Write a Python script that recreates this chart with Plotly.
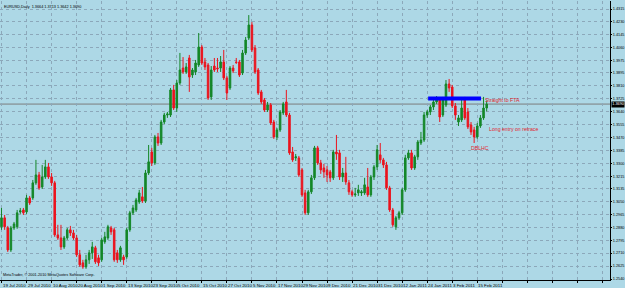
import plotly.graph_objects as go

# ---- data (EURUSD Daily) ----
opens = [1.2883,1.2942,1.2876,1.2731,1.2876,1.2883,1.2981,1.2994,1.2981,1.3073,
         1.3073,1.3172,1.3224,1.3145,1.3211,1.3277,1.3211,1.3172,1.2830,1.2810,
         1.2751,1.2810,1.2863,1.2843,1.2810,1.2699,1.2646,1.2620,1.2666,1.2712,
         1.2745,1.2679,1.2666,1.2784,1.2810,1.2876,1.2863,1.2712,1.2666,1.2685,
         1.2685,1.2863,1.2975,1.2994,1.3047,1.3080,1.3053,1.3237,1.3375,1.3303,
         1.3474,1.3434,1.3572,1.3618,1.3618,1.3783,1.3664,1.3829,1.3927,1.3901,
         1.3993,1.3881,1.3901,1.3947,1.4065,1.3967,1.3947,1.3737,1.3940,1.3927,
         1.3927,1.3967,1.3862,1.3796,1.3927,1.3967,1.3967,1.3894,1.4026,1.4124,
         1.4210,1.4059,1.3914,1.3770,1.3717,1.3651,1.3684,1.3572,1.3474,1.3520,
         1.3632,1.3704,1.3618,1.3375,1.3336,1.3336,1.3257,1.3106,1.2975,1.3113,
         1.3205,1.3402,1.3303,1.3270,1.3257,1.3244,1.3205,1.3375,1.3369,1.3211,
         1.3237,1.3172,1.3113,1.3093,1.3106,1.3106,1.3106,1.3145,1.3093,1.3211,
         1.3277,1.3356,1.3323,1.3290,1.3139,1.2994,1.2883,1.2942,1.2975,1.3126,
         1.3336,1.3369,1.3270,1.3343,1.3434,1.3454,1.3618,1.3638,1.3671,1.3704,
         1.3717,1.3618,1.3684,1.3822,1.3802,1.3678,1.3572,1.3586,1.3717,1.3638,
         1.3553,1.3520,1.3474,1.3546,1.3599,1.3664]
highs = [1.3007,1.2961,1.2889,1.2889,1.2915,1.2994,1.3007,1.3007,1.3093,1.3086,
         1.3191,1.3323,1.3244,1.3290,1.3323,1.3303,1.3237,1.3185,1.2896,1.2896,
         1.2823,1.2876,1.2889,1.2863,1.2830,1.2731,1.2666,1.2699,1.2731,1.2784,
         1.2758,1.2699,1.2810,1.2850,1.2896,1.2889,1.2876,1.2731,1.2758,1.2699,
         1.2876,1.2988,1.3027,1.3073,1.3126,1.3145,1.3257,1.3421,1.3402,1.3487,
         1.3500,1.3586,1.3632,1.3638,1.3796,1.3816,1.3848,1.4026,1.3999,1.3960,
         1.4013,1.3927,1.3980,1.4157,1.4078,1.3993,1.3960,1.3940,1.3993,1.3993,
         1.4006,1.4046,1.3875,1.3940,1.3947,1.3993,1.3980,1.4046,1.4131,1.4275,
         1.4229,1.4078,1.3927,1.3783,1.3730,1.3704,1.3697,1.3586,1.3533,1.3651,
         1.3704,1.3783,1.3632,1.3408,1.3362,1.3349,1.3270,1.3126,1.3126,1.3224,
         1.3415,1.3415,1.3323,1.3297,1.3283,1.3257,1.3389,1.3487,1.3389,1.3270,
         1.3343,1.3191,1.3126,1.3139,1.3159,1.3126,1.3205,1.3270,1.3224,1.3290,
         1.3421,1.3434,1.3336,1.3310,1.3152,1.3007,1.2955,1.2988,1.3139,1.3356,
         1.3389,1.3389,1.3356,1.3454,1.3507,1.3638,1.3651,1.3684,1.3717,1.3743,
         1.3730,1.3737,1.3848,1.3855,1.3816,1.3697,1.3618,1.3717,1.3737,1.3664,
         1.3572,1.3540,1.3566,1.3618,1.3737,1.3713]
lows = [1.2863,1.2863,1.2718,1.2718,1.2863,1.2870,1.2968,1.2961,1.2968,1.3027,
        1.3060,1.3159,1.3126,1.3132,1.3198,1.3198,1.3152,1.2817,1.2797,1.2731,
        1.2738,1.2797,1.2823,1.2797,1.2685,1.2620,1.2607,1.2607,1.2639,1.2672,
        1.2639,1.2626,1.2653,1.2771,1.2797,1.2830,1.2653,1.2646,1.2653,1.2633,
        1.2672,1.2850,1.2961,1.2981,1.3034,1.3040,1.3040,1.3224,1.3283,1.3290,
        1.3415,1.3421,1.3559,1.3599,1.3605,1.3651,1.3638,1.3816,1.3888,1.3888,
        1.3770,1.3862,1.3881,1.3934,1.3947,1.3914,1.3717,1.3717,1.3901,1.3901,
        1.3901,1.3848,1.3717,1.3783,1.3894,1.3954,1.3868,1.3881,1.4013,1.4111,
        1.4032,1.3888,1.3750,1.3691,1.3638,1.3638,1.3553,1.3461,1.3454,1.3507,
        1.3618,1.3605,1.3356,1.3310,1.3316,1.3211,1.3080,1.2961,1.2961,1.3099,
        1.3191,1.3290,1.3231,1.3205,1.3178,1.3178,1.3191,1.3323,1.3191,1.3178,
        1.3159,1.3093,1.3080,1.3080,1.3086,1.3086,1.3093,1.3080,1.3080,1.3191,
        1.3257,1.3303,1.3270,1.3126,1.2981,1.2883,1.2863,1.2929,1.2961,1.3113,
        1.3323,1.3257,1.3257,1.3323,1.3421,1.3441,1.3599,1.3618,1.3651,1.3691,
        1.3572,1.3605,1.3671,1.3770,1.3664,1.3586,1.3546,1.3572,1.3586,1.3526,
        1.3487,1.3434,1.3461,1.3533,1.3586,1.3642]
closes = [1.2942,1.2883,1.2731,1.2876,1.2902,1.2975,1.2988,1.2975,1.3073,1.3040,
          1.3172,1.3224,1.3139,1.3211,1.3277,1.3211,1.3172,1.2830,1.2810,1.2751,
          1.2810,1.2863,1.2843,1.2810,1.2699,1.2633,1.2620,1.2666,1.2712,1.2751,
          1.2653,1.2646,1.2797,1.2817,1.2883,1.2850,1.2666,1.2666,1.2745,1.2666,
          1.2863,1.2975,1.3007,1.3060,1.3106,1.3053,1.3237,1.3310,1.3303,1.3474,
          1.3434,1.3572,1.3618,1.3625,1.3783,1.3664,1.3829,1.3914,1.3901,1.3934,
          1.3868,1.3914,1.3960,1.4065,1.3960,1.3934,1.3730,1.3914,1.3914,1.3922,
          1.3967,1.3862,1.3763,1.3927,1.3908,1.3963,1.3881,1.4026,1.4111,1.4210,
          1.4046,1.3901,1.3763,1.3704,1.3651,1.3684,1.3566,1.3474,1.3520,1.3638,
          1.3691,1.3618,1.3369,1.3323,1.3343,1.3224,1.3093,1.2975,1.3113,1.3205,
          1.3402,1.3303,1.3257,1.3244,1.3224,1.3205,1.3375,1.3362,1.3211,1.3237,
          1.3178,1.3113,1.3093,1.3099,1.3126,1.3113,1.3159,1.3093,1.3211,1.3277,
          1.3389,1.3323,1.3290,1.3139,1.2994,1.2896,1.2942,1.2975,1.3126,1.3336,
          1.3369,1.3270,1.3343,1.3441,1.3454,1.3618,1.3638,1.3671,1.3704,1.3717,
          1.3605,1.3717,1.3822,1.3796,1.3678,1.3618,1.3599,1.3664,1.3599,1.3540,
          1.3507,1.3474,1.3546,1.3599,1.3664,1.3690]

date_labels = ["19 Jul 2010", "29 Jul 2010", "10 Aug 2010", "20 Aug 2010", "1 Sep 2010",
               "13 Sep 2010", "23 Sep 2010", "5 Oct 2010", "15 Oct 2010", "27 Oct 2010",
               "5 Nov 2010", "17 Nov 2010", "29 Nov 2010", "9 Dec 2010", "21 Dec 2010",
               "31 Dec 2010", "12 Jan 2011", "24 Jan 2011", "3 Feb 2011", "15 Feb 2011"]
label_step = 8
price_labels = [1.4315, 1.4230, 1.4145, 1.4060, 1.3975, 1.3895, 1.3810, 1.3725, 1.3640,
                1.3555, 1.3470, 1.3385, 1.3300, 1.3215, 1.3135, 1.3050, 1.2965, 1.2880,
                1.2795, 1.2710, 1.2625, 1.2540]
current_price = 1.3690
fta_level = 1.3726
fta_start, fta_end = 136.3, 153.2
notes = [("Straight to FTA", 153.8, 1.3717),
         ("Long entry on retrace", 155.1, 1.3526),
         ("DBLHC", 149.4, 1.3402)]
header = "EURUSD,Daily  1.3664 1.3713 1.3642 1.3690"
footer = "MetaTrader, \u00a9 2001-2010 MetaQuotes Software Corp."

n = len(opens)
xs = list(range(n))

BG = "#add8e6"
GRID = "rgb(140,168,186)"
UP = "rgb(20,135,40)"
DN = "rgb(235,20,30)"
FONT = "Liberation Sans, Arial, sans-serif"
SMALL = 3.8

fig = go.Figure()
fig.add_trace(go.Candlestick(
    x=xs, open=opens, high=highs, low=lows, close=closes,
    increasing=dict(line=dict(color=UP, width=1), fillcolor=UP),
    decreasing=dict(line=dict(color=DN, width=1), fillcolor=DN),
    whiskerwidth=0, hoverinfo="skip", showlegend=False))

# blue horizontal level
fig.add_trace(go.Scatter(x=[fta_start, fta_end], y=[fta_level, fta_level], mode="lines",
                         line=dict(color="#0000ff", width=4), showlegend=False,
                         hoverinfo="skip"))

x_lo, x_hi = -0.48, 194.4
y_lo, y_hi = 1.25334, 1.43676

# current price line
fig.add_shape(type="line", xref="paper", x0=0, x1=1, y0=current_price, y1=current_price,
              line=dict(color="rgb(125,125,125)", width=1), layer="below")

tickvals_x = list(range(0, int(x_hi) + 1, label_step))

# date labels, left-aligned at their grid line (MetaTrader style)
for k, lab in enumerate(date_labels):
    fig.add_annotation(x=tickvals_x[k], xref="x", yref="paper", y=0, text=lab,
                       showarrow=False, xanchor="left", yanchor="top", yshift=-1,
                       xshift=-1, font=dict(family=FONT, size=4.4, color="black"))

for txt, xv, yv in notes:
    fig.add_annotation(x=xv, y=yv, text=txt, showarrow=False, xanchor="left",
                       yanchor="middle", font=dict(family=FONT, size=5.2, color="rgb(225,30,45)"))

fig.add_annotation(xref="paper", yref="paper", x=0.004, y=0.993, text=header,
                   showarrow=False, xanchor="left", yanchor="top",
                   font=dict(family=FONT, size=SMALL, color="black"))
fig.add_annotation(xref="paper", yref="paper", x=0.002, y=0.002, text=footer,
                   showarrow=False, xanchor="left", yanchor="bottom",
                   font=dict(family=FONT, size=SMALL, color="black"))
# current price tag on axis
fig.add_annotation(xref="paper", x=1.0, y=current_price, text="1.3690", showarrow=False,
                   xanchor="left", yanchor="middle", bgcolor="black", xshift=0.5,
                   font=dict(family=FONT, size=SMALL, color="white"), borderpad=0.3)

fig.update_layout(
    width=625, height=288,
    margin=dict(l=0, r=15, t=1, b=8, autoexpand=False),
    paper_bgcolor=BG, plot_bgcolor=BG,
    font=dict(family=FONT, size=SMALL, color="black"),
    showlegend=False,
    xaxis=dict(range=[x_lo, x_hi], rangeslider=dict(visible=False),
               tickmode="array", tickvals=tickvals_x, showticklabels=False,
               showgrid=True, gridcolor=GRID, griddash="dot", gridwidth=1,
               zeroline=False, showline=True, linecolor="black", linewidth=1,
               ticks="outside", ticklen=2, tickcolor="black", automargin=False),
    yaxis=dict(range=[y_lo, y_hi], side="right", tickmode="array",
               tickvals=price_labels, ticktext=[f"{v:.4f}" for v in price_labels],
               showgrid=True, gridcolor=GRID, griddash="dot", gridwidth=1,
               zeroline=False, showline=True, linecolor="black", linewidth=1,
               ticks="outside", ticklen=1, tickcolor="black", automargin=False,
               ticklabelstandoff=0, tickfont=dict(size=SMALL)),
)

fig.write_html("out.html")
